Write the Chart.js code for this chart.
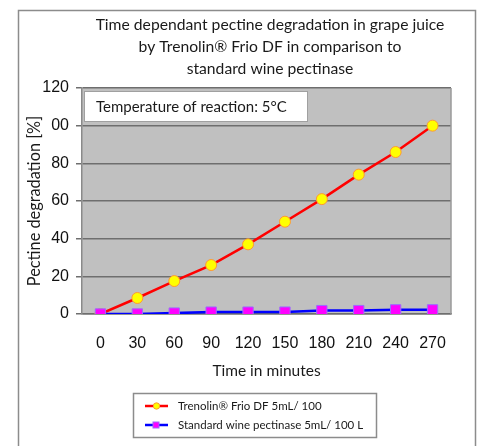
<!DOCTYPE html>
<html>
<head>
<meta charset="utf-8">
<script src="https://cdn.jsdelivr.net/npm/chart.js@4.4.1/dist/chart.umd.min.js"></script>
<style>
html,body{margin:0;padding:0;background:#fff;}
#wrap{width:481px;height:446px;position:relative;}
</style>
</head>
<body>
<div id="wrap"><canvas id="c" width="481" height="446"></canvas></div>
<script>
const categories = ['0','30','60','90','120','150','180','210','240','270'];
const trenolinValues = [0, 8.5, 17.5, 26, 37, 49, 61, 74, 86, 100];
const standardValues = [0, 0, 0.5, 1, 1, 1, 1.8, 1.8, 2.2, 2.2];
const seriesNames = ['Trenolin\u00AE Frio DF 5mL/ 100', 'Standard wine pectinase 5mL/ 100 L'];
const titleLines = ['Time dependant pectine degradation in grape juice', 'by Trenolin\u00AE Frio DF in comparison to', 'standard wine pectinase'];
const annotationText = 'Temperature of reaction: 5\u00B0C';
const yTickLabels = {0:'0',20:'20',40:'40',60:'60',80:'80',100:'00',120:'120'};
const xTitle = 'Time in minutes';
const yTitle = 'Pectine degradation [%]';

const SANS = "Lato, 'Open Sans', sans-serif";
const ARIAL = "'Liberation Sans', Arial, sans-serif";

const decor = {
  id: 'decor',
  beforeDraw(chart) {
    const ctx = chart.ctx;
    const a = chart.chartArea;
    ctx.save();
    ctx.fillStyle = '#fff';
    ctx.fillRect(0, 0, chart.width, chart.height);
    ctx.strokeStyle = '#8c8c8c';
    ctx.lineWidth = 1.5;
    ctx.beginPath();
    ctx.moveTo(18.5, 446);
    ctx.lineTo(18.5, 10.5);
    ctx.lineTo(475.5, 10.5);
    ctx.lineTo(475.5, 446);
    ctx.stroke();
    ctx.fillStyle = '#c0c0c0';
    ctx.fillRect(a.left, a.top, a.right - a.left, a.bottom - a.top);
    ctx.restore();
  },
  afterDraw(chart) {
    const ctx = chart.ctx;
    const a = chart.chartArea;
    ctx.save();
    ctx.strokeStyle = '#9a9a9a';
    ctx.lineWidth = 1.5;
    ctx.beginPath();
    ctx.moveTo(a.right, a.top);
    ctx.lineTo(a.right, a.bottom);
    ctx.stroke();
    // title
    ctx.fillStyle = '#1a1a1a';
    ctx.font = "15.7px " + SANS;
    ctx.textAlign = 'center';
    ctx.textBaseline = 'middle';
    const cx = 270;
    titleLines.forEach((t, i) => ctx.fillText(t, cx, 25 + i * 22));
    // annotation box
    ctx.fillStyle = '#ffffff';
    ctx.fillRect(84, 91, 223, 30);
    ctx.strokeStyle = '#a0a0a0';
    ctx.lineWidth = 1;
    ctx.strokeRect(84.5, 91.5, 223, 30);
    ctx.fillStyle = '#1a1a1a';
    ctx.font = "15px " + SANS;
    ctx.textAlign = 'left';
    ctx.fillText(annotationText, 96, 107);
    // legend
    ctx.fillStyle = '#fff';
    ctx.fillRect(133, 393, 243, 44);
    ctx.strokeStyle = '#8c8c8c';
    ctx.lineWidth = 1.5;
    ctx.strokeRect(133.5, 393.5, 243, 44);
    const ds = chart.data.datasets;
    const order = [1, 0];
    order.forEach((di, row) => {
      const d = ds[di];
      const y = 406 + row * 19;
      ctx.strokeStyle = d.borderColor;
      ctx.lineWidth = 2.5;
      ctx.beginPath();
      ctx.moveTo(145, y);
      ctx.lineTo(168, y);
      ctx.stroke();
      ctx.fillStyle = d.pointBackgroundColor;
      ctx.strokeStyle = d.pointBorderColor;
      ctx.lineWidth = 1;
      if (d.pointStyle === 'rect') {
        ctx.fillRect(153, y - 3, 6, 6);
        ctx.strokeRect(153, y - 3, 6, 6);
      } else {
        ctx.beginPath();
        ctx.arc(156.5, y, 3.2, 0, Math.PI * 2);
        ctx.fill();
        ctx.stroke();
      }
      ctx.fillStyle = '#1a1a1a';
      ctx.font = "11.5px " + SANS;
      ctx.textAlign = 'left';
      ctx.textBaseline = 'middle';
      ctx.fillText(d.label, 178, y);
    });
    ctx.restore();
  }
};

new Chart(document.getElementById('c'), {
  type: 'line',
  data: {
    labels: categories,
    datasets: [
      {
        label: seriesNames[1],
        data: standardValues,
        borderColor: '#0000ff',
        borderWidth: 2.5,
        pointStyle: 'rect',
        pointRadius: 7.3,
        pointBackgroundColor: '#ff00ff',
        pointBorderColor: '#9b6bff',
        pointBorderWidth: 1,
        tension: 0,
        order: 0
      },
      {
        label: seriesNames[0],
        data: trenolinValues,
        borderColor: '#ff0000',
        borderWidth: 2.5,
        pointStyle: 'circle',
        pointRadius: 5.5,
        pointBackgroundColor: '#ffff00',
        pointBorderColor: '#ff9933',
        pointBorderWidth: 1,
        tension: 0,
        order: 1
      }
    ]
  },
  options: {
    responsive: false,
    animation: false,
    devicePixelRatio: 1,
    layout: { padding: { left: 20, top: 88, right: 30, bottom: 0 } },
    plugins: {
      legend: { display: false },
      title: { display: false },
      tooltip: { enabled: false }
    },
    scales: {
      x: {
        type: 'category',
        offset: true,
        afterFit(s) { s.height = 132; },
        grid: { display: false, drawTicks: false },
        border: { display: true, color: '#6e6e6e', width: 1.5 },
        ticks: { color: '#111', font: { family: ARIAL, size: 16 }, padding: 20, maxRotation: 0, autoSkip: false },
        title: { display: true, text: xTitle, color: '#1a1a1a', font: { family: SANS, size: 15.5 }, padding: { top: 4, bottom: 66 } }
      },
      y: {
        min: 0,
        max: 120,
        afterFit(s) { s.width = 62; },
        ticks: {
          stepSize: 20,
          color: '#111',
          font: { family: ARIAL, size: 16 },
          padding: 7,
          callback: (v) => yTickLabels[v] !== undefined ? yTickLabels[v] : ''
        },
        grid: { color: '#6e6e6e', lineWidth: 1.5, tickLength: 6, drawTicks: true, tickColor: '#6e6e6e' },
        border: { display: true, color: '#8a8a8a', width: 1.5 },
        title: { display: true, text: yTitle, color: '#1a1a1a', font: { family: SANS, size: 16.3 }, padding: { top: 5, bottom: 0 } }
      }
    }
  },
  plugins: [decor]
});
</script>
</body>
</html>
